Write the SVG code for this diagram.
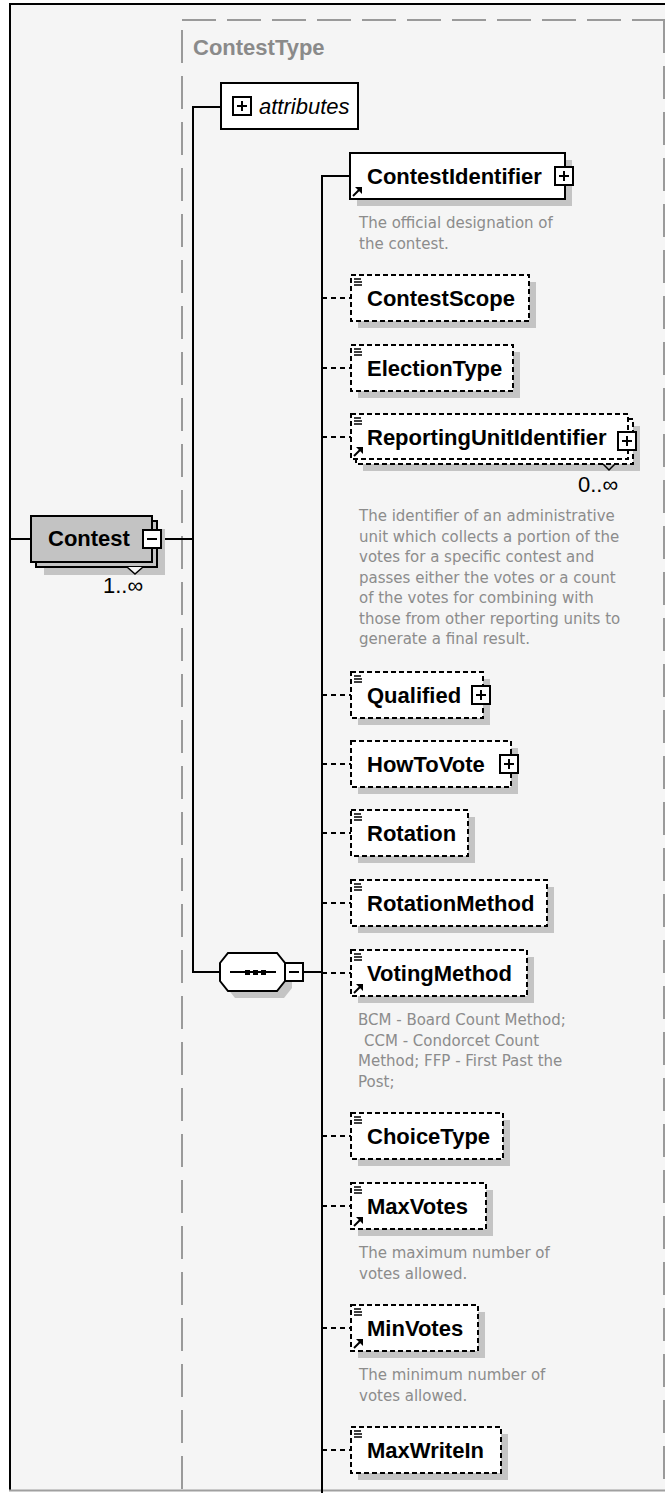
<svg xmlns="http://www.w3.org/2000/svg" xmlns:xlink="http://www.w3.org/1999/xlink" width="665" height="1493" viewBox="0 0 665 1493">
<style>
.box{fill:#fff;stroke:#000;stroke-width:2}
.opt{stroke-dasharray:5 3}
.shadow{fill:#c4c4c4}
.lbl{font-family:"Liberation Sans",Arial,sans-serif;font-weight:bold;font-size:22px;fill:#000}
.reg{font-family:"Liberation Sans",Arial,sans-serif;font-size:22px;fill:#000}
.desc{font-family:"DejaVu Sans",sans-serif;font-size:15px;fill:#8c8c8c}
.conn{stroke:#000;stroke-width:2;fill:none}
.dash{stroke-dasharray:5 4}
.frame{stroke:#9a9a9a;stroke-width:2;fill:none}
</style>
<defs>
<g id="doc"><path d="M3,4H10M3,7H11M3,10H11" stroke="#000" stroke-width="1.5" fill="none"/></g>
<g id="link"><path d="M3,-3L9,-9" stroke="#000" stroke-width="2"/><polygon points="5,-12 12,-12 12,-5" fill="#000"/></g>
<g id="plus"><rect x="0" y="0" width="18" height="18" fill="#fff" stroke="#000" stroke-width="2"/><path d="M4,9H14M9,4V14" stroke="#000" stroke-width="2"/></g>
<g id="minus"><rect x="0" y="0" width="18" height="18" fill="#fff" stroke="#000" stroke-width="2"/><path d="M4,9H14" stroke="#000" stroke-width="2"/></g>
</defs>
<rect x="0" y="0" width="665" height="1493" fill="#fff"/>
<rect x="10" y="4" width="655" height="1486" fill="#f5f5f5"/>
<g id="frame">
<path d="M10,1490V4H665" stroke="#000" stroke-width="2" fill="none"/>
<path d="M9,1490.5H665" stroke="#a0a0a0" stroke-width="2"/>
<path class="frame" d="M182,20H665" stroke-dasharray="34 11"/>
<path class="frame" d="M182,30V1490" stroke-dasharray="33 13"/>
<path class="frame" d="M664,20V1490" stroke-dasharray="33 13"/>
<text x="193" y="55" style="font-family:'Liberation Sans',Arial,sans-serif;font-weight:bold;font-size:22px;fill:#8a8a8a">ContestType</text>
</g>
<g id="connectors">
<path class="conn" d="M10,539H31"/>
<path class="conn" d="M162,539H193"/>
<path class="conn" d="M221,107H193V972H220"/>
<path class="conn" d="M303,972H322"/>
<path class="conn" d="M350,176H322V1493"/>
<path class="conn dash" d="M322,298H351M322,368H351M322,437H351M322,695H351M322,764H351M322,833H351M322,903H351M322,973H351M322,1136H351M322,1206H351M322,1328H351M322,1450H351"/>
</g>
<g id="node-contest">
<rect class="shadow" x="44" y="529" width="121" height="46"/>
<rect x="36" y="521" width="121" height="46" fill="#c3c3c3" stroke="#000" stroke-width="2"/>
<rect x="31" y="516" width="121" height="46" fill="#c3c3c3" stroke="#000" stroke-width="2"/>
<text class="lbl" x="48" y="546">Contest</text>
<use xlink:href="#minus" x="143" y="530"/>
<path d="M127,567L135,574L143,567" stroke="#000" stroke-width="1.5" fill="#f5f5f5"/>
<text class="reg" x="103" y="593">1..∞</text>
</g>
<g id="node-attributes">
<rect class="box" x="221" y="83" width="137" height="46"/>
<use xlink:href="#plus" x="233" y="97"/>
<text x="259" y="114" style="font-family:'Liberation Sans',Arial,sans-serif;font-style:italic;font-size:22px;fill:#000">attributes</text>
</g>
<g id="node-sequence">
<polygon class="shadow" points="235,960 284,960 292,970 292,988 284,998 235,998 227,988 227,970"/>
<polygon points="228,953 277,953 285,963 285,981 277,991 228,991 220,981 220,963" fill="#fff" stroke="#000" stroke-width="2"/>
<path d="M230,972H276" stroke="#000" stroke-width="2"/>
<rect x="245" y="970" width="5" height="5" fill="#000"/>
<rect x="253" y="970" width="5" height="5" fill="#000"/>
<rect x="261" y="970" width="5" height="5" fill="#000"/>
<use xlink:href="#minus" x="285" y="963"/>
</g>
<g id="node-contestidentifier">
<rect class="shadow" x="357" y="160" width="215" height="46"/>
<rect class="box" x="350" y="153" width="215" height="46"/>
<text class="lbl" x="367" y="183.5">ContestIdentifier</text>
<use xlink:href="#plus" x="555" y="167"/>
<use xlink:href="#link" x="350" y="199"/>
<text class="desc" x="359" y="228">The official designation of</text>
<text class="desc" x="359" y="248.5">the contest.</text>
</g>
<g id="node-contestscope">
<rect class="shadow" x="358" y="282" width="178" height="46"/>
<rect class="box opt" x="351" y="275" width="178" height="46"/>
<use xlink:href="#doc" x="351" y="275"/>
<text class="lbl" x="367" y="305.5">ContestScope</text>
</g>
<g id="node-electiontype">
<rect class="shadow" x="358" y="352" width="162" height="46"/>
<rect class="box opt" x="351" y="345" width="162" height="46"/>
<use xlink:href="#doc" x="351" y="345"/>
<text class="lbl" x="367" y="375.5">ElectionType</text>
</g>
<g id="node-reportingunitidentifier">
<rect class="shadow" x="363" y="426" width="277" height="45"/>
<rect class="box opt" x="356" y="419" width="277" height="45"/>
<rect class="box opt" x="351" y="414" width="277" height="45"/>
<use xlink:href="#doc" x="351" y="414"/>
<text class="lbl" x="367" y="444.5">ReportingUnitIdentifier</text>
<use xlink:href="#plus" x="618" y="432"/>
<use xlink:href="#link" x="351" y="459"/>
<path d="M603,464L609,470L615,464" stroke="#000" stroke-width="1.5" fill="none"/>
<text class="reg" x="578" y="492">0..∞</text>
<text class="desc" x="359" y="521">The identifier of an administrative</text>
<text class="desc" x="359" y="541.5">unit which collects a portion of the</text>
<text class="desc" x="359" y="562">votes for a specific contest and</text>
<text class="desc" x="359" y="582.5">passes either the votes or a count</text>
<text class="desc" x="359" y="603">of the votes for combining with</text>
<text class="desc" x="359" y="623.5">those from other reporting units to</text>
<text class="desc" x="359" y="644">generate a final result.</text>
</g>
<g id="node-qualified">
<rect class="shadow" x="358" y="679" width="132" height="46"/>
<rect class="box opt" x="351" y="672" width="132" height="46"/>
<use xlink:href="#doc" x="351" y="672"/>
<text class="lbl" x="367" y="702.5">Qualified</text>
<use xlink:href="#plus" x="472" y="686"/>
</g>
<g id="node-howtovote">
<rect class="shadow" x="358" y="748" width="160" height="46"/>
<rect class="box opt" x="351" y="741" width="160" height="46"/>
<text class="lbl" x="367" y="771.5">HowToVote</text>
<use xlink:href="#plus" x="500" y="755"/>
</g>
<g id="node-rotation">
<rect class="shadow" x="358" y="817" width="117" height="46"/>
<rect class="box opt" x="351" y="810" width="117" height="46"/>
<use xlink:href="#doc" x="351" y="810"/>
<text class="lbl" x="367" y="840.5">Rotation</text>
</g>
<g id="node-rotationmethod">
<rect class="shadow" x="358" y="887" width="196" height="46"/>
<rect class="box opt" x="351" y="880" width="196" height="46"/>
<use xlink:href="#doc" x="351" y="880"/>
<text class="lbl" x="367" y="910.5">RotationMethod</text>
</g>
<g id="node-votingmethod">
<rect class="shadow" x="358" y="957" width="176" height="46"/>
<rect class="box opt" x="351" y="950" width="176" height="46"/>
<use xlink:href="#doc" x="351" y="950"/>
<text class="lbl" x="367" y="980.5">VotingMethod</text>
<use xlink:href="#link" x="351" y="996"/>
<text class="desc" x="358" y="1025">BCM - Board Count Method;</text>
<text class="desc" x="364" y="1045.5">CCM - Condorcet Count</text>
<text class="desc" x="358" y="1066">Method; FFP - First Past the</text>
<text class="desc" x="358" y="1086.5">Post;</text>
</g>
<g id="node-choicetype">
<rect class="shadow" x="358" y="1120" width="152" height="46"/>
<rect class="box opt" x="351" y="1113" width="152" height="46"/>
<use xlink:href="#doc" x="351" y="1113"/>
<text class="lbl" x="367" y="1143.5">ChoiceType</text>
</g>
<g id="node-maxvotes">
<rect class="shadow" x="358" y="1190" width="135" height="46"/>
<rect class="box opt" x="351" y="1183" width="135" height="46"/>
<use xlink:href="#doc" x="351" y="1183"/>
<text class="lbl" x="367" y="1213.5">MaxVotes</text>
<use xlink:href="#link" x="351" y="1229"/>
<text class="desc" x="359" y="1258">The maximum number of</text>
<text class="desc" x="359" y="1278.5">votes allowed.</text>
</g>
<g id="node-minvotes">
<rect class="shadow" x="358" y="1312" width="127" height="46"/>
<rect class="box opt" x="351" y="1305" width="127" height="46"/>
<use xlink:href="#doc" x="351" y="1305"/>
<text class="lbl" x="367" y="1335.5">MinVotes</text>
<use xlink:href="#link" x="351" y="1351"/>
<text class="desc" x="359" y="1380">The minimum number of</text>
<text class="desc" x="359" y="1400.5">votes allowed.</text>
</g>
<g id="node-maxwritein">
<rect class="shadow" x="358" y="1434" width="150" height="46"/>
<rect class="box opt" x="351" y="1427" width="150" height="46"/>
<use xlink:href="#doc" x="351" y="1427"/>
<text class="lbl" x="367" y="1457.5">MaxWriteIn</text>
</g>
</svg>
